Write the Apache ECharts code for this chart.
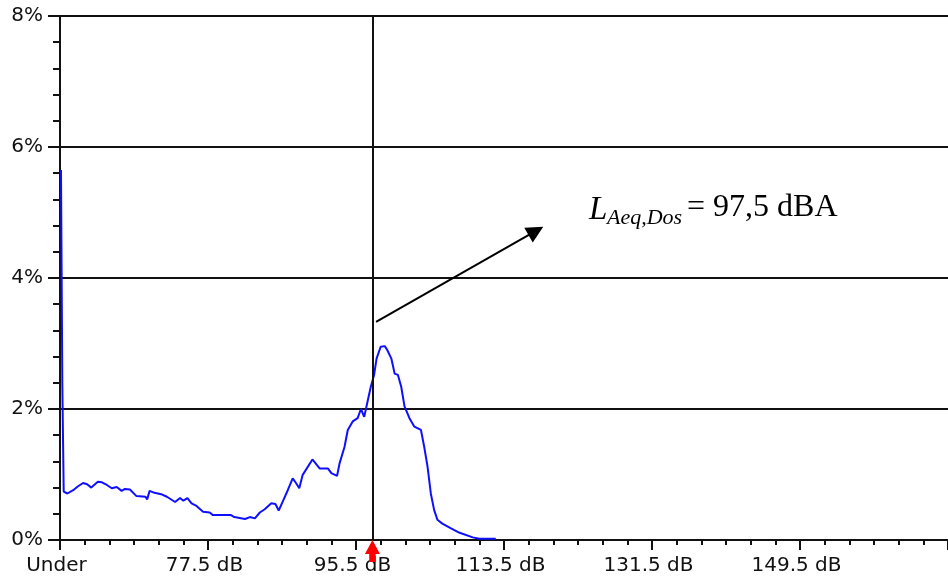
<!DOCTYPE html>
<html><head><meta charset="utf-8">
<script src="https://cdn.jsdelivr.net/npm/echarts@6/dist/echarts.min.js"></script>
<style>html,body{margin:0;padding:0;background:#fff}#chart{width:948px;height:582px}</style>
</head><body><div id="chart"></div>
<script>
// Sound level (dB) of each histogram point, "Under" bin drawn at 59.5
const levelsDb = [59.62, 59.78, 59.86, 59.95, 60.4, 61.1, 61.7, 62.3, 62.8, 63.3, 64.1, 64.6, 65.2, 65.8, 66.4, 67.0, 67.4, 68.0, 68.8, 69.9,
  70.1, 70.4, 71.0, 71.8, 72.5, 73.5, 74.1, 74.5, 75.0, 75.5, 76.1, 76.9, 77.7, 78.1, 80.3, 80.7, 82.0, 82.6, 83.2, 83.8,
  84.4, 85.2, 85.7, 86.1, 86.6, 87.2, 87.8, 88.2, 88.6, 89.0, 90.2, 91.1, 92.1, 92.5, 93.2, 93.5, 94.1, 94.5, 95.1, 95.7,
  96.1, 96.5, 96.9, 97.3, 97.7, 98.0, 98.5, 99.0, 99.3, 99.8, 100.2, 100.6, 101.0, 101.4, 102.0, 102.6, 103.4, 103.8, 104.2, 104.6,
  105.0, 105.4, 106.0, 107.0, 108.1, 109.7, 110.5, 112.5];
// Share of time (%) at each level
const sharePct = [5.65, 2.40, 2.37, 0.74, 0.71, 0.76, 0.82, 0.87, 0.85, 0.80, 0.89, 0.88, 0.84, 0.79, 0.81, 0.75, 0.78, 0.77, 0.67, 0.66,
  0.62, 0.75, 0.72, 0.70, 0.66, 0.58, 0.64, 0.60, 0.64, 0.56, 0.52, 0.43, 0.42, 0.38, 0.38, 0.35, 0.32, 0.35, 0.33, 0.42,
  0.47, 0.56, 0.55, 0.45, 0.59, 0.76, 0.94, 0.87, 0.79, 0.99, 1.23, 1.09, 1.09, 1.02, 0.98, 1.17, 1.42, 1.68, 1.81, 1.86,
  2.00, 1.88, 2.11, 2.34, 2.52, 2.77, 2.95, 2.96, 2.90, 2.77, 2.54, 2.52, 2.34, 2.04, 1.86, 1.73, 1.68, 1.42, 1.12, 0.71,
  0.46, 0.31, 0.25, 0.18, 0.11, 0.04, 0.02, 0.02];

const xMin = 59.5, xMax = 167.5;
const xTickValues = [59.5, 77.5, 95.5, 113.5, 131.5, 149.5, 167.5];
const xTickLabels = ['Under', '77.5 dB', '95.5 dB', '113.5 dB', '131.5 dB', '149.5 dB', ''];
const xMinorStep = 3;
const yTickValues = [0, 2, 4, 6, 8];
const yTickLabels = ['0%', '2%', '4%', '6%', '8%'];
const cursorDb = 97.5;
const arrowFrom = [97.94, 3.33];
const arrowTo = [117.38, 4.72];
const noteMain = 'L', noteSub = 'Aeq,Dos', noteRest = '= 97,5 dBA';

const xMinorTicks = [];
for (let v = xMin; v <= xMax + 1e-9; v += xMinorStep) xMinorTicks.push(+v.toFixed(2));

const chart = echarts.init(document.getElementById('chart'), null, {renderer: 'canvas'});
const axisColor = '#111';
const labelFont = {fontFamily: 'DejaVu Sans', fontSize: 20, color: '#111'};

chart.setOption({
  animation: false,
  backgroundColor: '#fff',
  grid: {left: 60, top: 16, height: 524, width: 890, containLabel: false},
  xAxis: [{
    type: 'value', min: xMin, max: xMax, position: 'bottom',
    axisLine: {show: true, lineStyle: {color: axisColor, width: 2}},
    axisTick: {show: true, length: 10, customValues: xTickValues, lineStyle: {color: axisColor, width: 2}},
    axisLabel: Object.assign({show: true, margin: 16, customValues: xTickValues.slice(0, 6), padding: [0, 7, 0, 0],
      formatter: v => { const i = xTickValues.indexOf(v); return i >= 0 ? xTickLabels[i] : ''; }}, labelFont),
    splitLine: {show: false}
  }, {
    type: 'value', min: xMin, max: xMax, position: 'bottom', gridIndex: 0,
    axisLine: {show: false},
    axisTick: {show: true, length: 5, customValues: xMinorTicks, lineStyle: {color: axisColor, width: 2}},
    axisLabel: {show: false},
    splitLine: {show: false}
  }],
  yAxis: {
    type: 'value', min: 0, max: 8, interval: 2,
    axisLine: {show: true, lineStyle: {color: axisColor, width: 2}},
    axisTick: {show: true, length: 12, lineStyle: {color: axisColor, width: 2}},
    minorTick: {show: true, splitNumber: 5, length: 7, lineStyle: {color: axisColor, width: 2}},
    axisLabel: Object.assign({margin: 17, formatter: v => { const i = yTickValues.indexOf(v); return i >= 0 ? yTickLabels[i] : ''; }}, labelFont),
    splitLine: {show: true, lineStyle: {color: axisColor, width: 2}}
  },
  series: [{
    type: 'line', xAxisIndex: 0,
    data: levelsDb.map((d, i) => [d, sharePct[i]]),
    showSymbol: false, symbol: 'none', silent: true, z: 3,
    lineStyle: {color: '#0f0fff', width: 2},
    markLine: {
      silent: true, animation: false,
      label: {show: false},
      emphasis: {disabled: true},
      data: [
        [{xAxis: cursorDb, yAxis: 0, symbol: 'none', lineStyle: {color: axisColor, width: 2, type: 'solid'}},
         {xAxis: cursorDb, yAxis: 8, symbol: 'none'}],
        [{coord: arrowFrom, symbol: 'none', lineStyle: {color: '#000', width: 2, type: 'solid'}},
         {coord: arrowTo, symbol: 'triangle', symbolSize: 17}]
      ],
      itemStyle: {color: '#000'}
    },
    markPoint: {
      silent: true, animation: false,
      data: [{coord: [cursorDb, 0], symbol: 'path://M7,0 L14,14 L10,14 L10,22 L4,22 L4,14 L0,14 Z',
        symbolSize: [15, 22], symbolOffset: [0, 11], itemStyle: {color: '#ff0000'}, label: {show: false}}]
    }
  }],
  graphic: [
    {type: 'text', left: 589, top: 194, z: 10, silent: true,
     style: {text: noteMain, font: 'italic 33px "Liberation Serif"', fill: '#000'}},
    {type: 'text', left: 607, top: 207, z: 10, silent: true,
     style: {text: noteSub, font: 'italic 22px "Liberation Serif"', fill: '#000'}},
    {type: 'text', left: 687, top: 192, z: 10, silent: true,
     style: {text: noteRest, font: '32px "Liberation Serif"', fill: '#000'}}
  ]
});
</script></body></html>
